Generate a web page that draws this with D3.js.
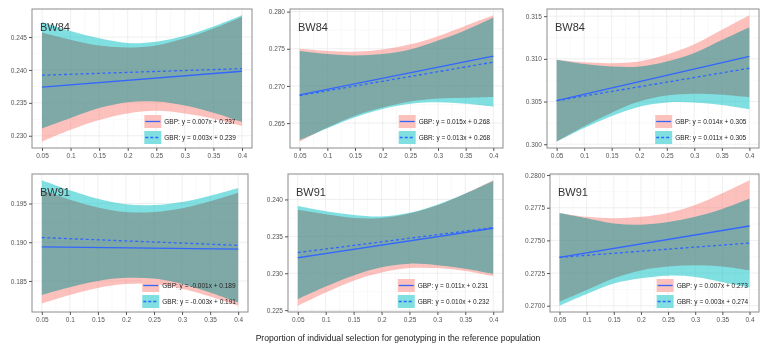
<!DOCTYPE html>
<html>
<head>
<meta charset="utf-8">
<script src="https://cdn.jsdelivr.net/npm/d3@7"></script>
<style>
  body { margin: 0; background: #fff; }
  svg { display: block; font-family: "Liberation Sans", Arial, sans-serif; }
  .band { mix-blend-mode: multiply; }
</style>
</head>
<body>
<div id="chart"></div>
<script>
const xTicks = [0.05, 0.1, 0.15, 0.2, 0.25, 0.3, 0.35, 0.4];
const xEnds = [0.05, 0.4];

const panelTitles = ["BW84", "BW84", "BW84", "BW91", "BW91", "BW91"];

const yTicks = [
  [0.230, 0.235, 0.240, 0.245],
  [0.265, 0.270, 0.275, 0.280],
  [0.300, 0.305, 0.310, 0.315],
  [0.185, 0.190, 0.195],
  [0.225, 0.230, 0.235, 0.240],
  [0.2700, 0.2725, 0.2750, 0.2775, 0.2800]
];
const yFormats = [".3f", ".3f", ".3f", ".3f", ".3f", ".4f"];

// fitted lines, value at x = 0.05 and x = 0.4
const gbpFit = [[0.2374, 0.2398], [0.2688, 0.2740], [0.3051, 0.3103], [0.1894, 0.1891], [0.2321, 0.2361], [0.2737, 0.2761]];
const gbrFit = [[0.2392, 0.2402], [0.2687, 0.2732], [0.3051, 0.3089], [0.1906, 0.1896], [0.2328, 0.2362], [0.2737, 0.2748]];

// confidence bands at xTicks
const gbpLower = [
  [0.2291, 0.2309, 0.2324, 0.2334, 0.2338, 0.2334, 0.2326, 0.2315],
  [0.2625, 0.2644, 0.2660, 0.2671, 0.2679, 0.2683, 0.2684, 0.2685],
  [0.3003, 0.3021, 0.3037, 0.3050, 0.3057, 0.3059, 0.3058, 0.3055],
  [0.1821, 0.1832, 0.1841, 0.1846, 0.1846, 0.1840, 0.1830, 0.1818],
  [0.2256, 0.2274, 0.2290, 0.2301, 0.2307, 0.2307, 0.2303, 0.2296],
  [0.2703, 0.2712, 0.2721, 0.2727, 0.2730, 0.2731, 0.2730, 0.2727]
];
const gbpUpper = [
  [0.2457, 0.2446, 0.2437, 0.2434, 0.2437, 0.2448, 0.2463, 0.2481],
  [0.2750, 0.2747, 0.2746, 0.2749, 0.2756, 0.2767, 0.2781, 0.2795],
  [0.3099, 0.3096, 0.3095, 0.3097, 0.3105, 0.3117, 0.3134, 0.3151],
  [0.1967, 0.1955, 0.1945, 0.1939, 0.1939, 0.1944, 0.1953, 0.1964],
  [0.2386, 0.2380, 0.2375, 0.2375, 0.2381, 0.2392, 0.2408, 0.2426],
  [0.2771, 0.2768, 0.2767, 0.2768, 0.2771, 0.2777, 0.2786, 0.2796]
];
const gbrLower = [
  [0.2311, 0.2327, 0.2342, 0.2351, 0.2352, 0.2346, 0.2335, 0.2321],
  [0.2627, 0.2643, 0.2658, 0.2669, 0.2676, 0.2678, 0.2676, 0.2672],
  [0.3003, 0.3019, 0.3033, 0.3044, 0.3049, 0.3049, 0.3046, 0.3041],
  [0.1832, 0.1842, 0.1850, 0.1854, 0.1853, 0.1846, 0.1835, 0.1822],
  [0.2265, 0.2282, 0.2297, 0.2308, 0.2313, 0.2311, 0.2306, 0.2299],
  [0.2700, 0.2709, 0.2717, 0.2721, 0.2723, 0.2722, 0.2718, 0.2714]
];
const gbrUpper = [
  [0.2473, 0.2459, 0.2448, 0.2441, 0.2443, 0.2452, 0.2466, 0.2483],
  [0.2747, 0.2743, 0.2741, 0.2743, 0.2749, 0.2761, 0.2775, 0.2792],
  [0.3099, 0.3094, 0.3091, 0.3091, 0.3097, 0.3107, 0.3122, 0.3137],
  [0.1980, 0.1967, 0.1956, 0.1949, 0.1948, 0.1952, 0.1960, 0.1970],
  [0.2391, 0.2384, 0.2379, 0.2377, 0.2382, 0.2393, 0.2408, 0.2425],
  [0.2771, 0.2767, 0.2763, 0.2762, 0.2764, 0.2768, 0.2774, 0.2782]
];

const gbpLabels = ["GBP: y = 0.007x + 0.237", "GBP: y = 0.015x + 0.268", "GBP: y = 0.014x + 0.305",
                   "GBP: y = -0.001x + 0.189", "GBP: y = 0.011x + 0.231", "GBP: y = 0.007x + 0.273"];
const gbrLabels = ["GBR: y = 0.003x + 0.239", "GBR: y = 0.013x + 0.268", "GBR: y = 0.011x + 0.305",
                   "GBR: y = -0.003x + 0.191", "GBR: y = 0.010x + 0.232", "GBR: y = 0.003x + 0.274"];

const xTitle = "Proportion of individual selection for genotyping in the reference population";

// plot boxes (layout)
const boxes = [
  { x0: 32, x1: 252, y0: 9, y1: 148 },
  { x0: 290, x1: 503, y0: 9, y1: 148 },
  { x0: 547, x1: 759, y0: 9, y1: 148 },
  { x0: 32, x1: 248, y0: 174, y1: 312 },
  { x0: 288, x1: 503, y0: 174, y1: 312 },
  { x0: 550, x1: 759, y0: 174, y1: 312 }
];

const width = 761, height = 350;
const lineColor = "#3366FF";
const pink = "#F8766D", cyan = "#00BFC4";

const svg = d3.select("#chart").append("svg")
  .attr("width", width)
  .attr("height", height);

boxes.forEach((b, i) => {
  const g = svg.append("g");

  const x = d3.scaleLinear()
    .domain([0.05 - 0.0175, 0.4 + 0.0175])
    .range([b.x0, b.x1]);

  const all = gbpLower[i].concat(gbpUpper[i], gbrLower[i], gbrUpper[i]);
  const ext = d3.extent(all);
  const pad = (ext[1] - ext[0]) * 0.05;
  const y = d3.scaleLinear()
    .domain([ext[0] - pad, ext[1] + pad])
    .range([b.y1, b.y0]);

  const clipId = "clip" + i;
  g.append("clipPath").attr("id", clipId)
    .append("rect")
    .attr("x", b.x0).attr("y", b.y0)
    .attr("width", b.x1 - b.x0).attr("height", b.y1 - b.y0);

  g.append("rect")
    .attr("x", b.x0).attr("y", b.y0)
    .attr("width", b.x1 - b.x0).attr("height", b.y1 - b.y0)
    .attr("fill", "#fff");

  // grid lines
  const grid = g.append("g").attr("clip-path", `url(#${clipId})`);
  const minorX = d3.pairs(xTicks).map(p => (p[0] + p[1]) / 2);
  const minorY = d3.pairs(yTicks[i]).map(p => (p[0] + p[1]) / 2);
  grid.selectAll(".mx").data(minorX).join("line")
    .attr("x1", d => x(d)).attr("x2", d => x(d))
    .attr("y1", b.y0).attr("y2", b.y1)
    .attr("stroke", "#f2f2f2").attr("stroke-width", 0.5);
  grid.selectAll(".my").data(minorY).join("line")
    .attr("y1", d => y(d)).attr("y2", d => y(d))
    .attr("x1", b.x0).attr("x2", b.x1)
    .attr("stroke", "#f2f2f2").attr("stroke-width", 0.5);
  grid.selectAll(".gx").data(xTicks).join("line")
    .attr("x1", d => x(d)).attr("x2", d => x(d))
    .attr("y1", b.y0).attr("y2", b.y1)
    .attr("stroke", "#ebebeb").attr("stroke-width", 0.8);
  grid.selectAll(".gy").data(yTicks[i]).join("line")
    .attr("y1", d => y(d)).attr("y2", d => y(d))
    .attr("x1", b.x0).attr("x2", b.x1)
    .attr("stroke", "#ebebeb").attr("stroke-width", 0.8);

  // confidence bands
  const plot = g.append("g").attr("clip-path", `url(#${clipId})`);
  const band = (lo, hi) => d3.area()
    .x((d, k) => x(xTicks[k]))
    .y0((d, k) => y(lo[k]))
    .y1((d, k) => y(hi[k]))
    .curve(d3.curveCatmullRom.alpha(0.5))(xTicks);

  plot.append("path").attr("class", "band")
    .attr("d", band(gbpLower[i], gbpUpper[i]))
    .attr("fill", pink).attr("fill-opacity", 0.45);
  plot.append("path").attr("class", "band")
    .attr("d", band(gbrLower[i], gbrUpper[i]))
    .attr("fill", cyan).attr("fill-opacity", 0.5);

  // fitted lines
  const line = d3.line().x((d, k) => x(xEnds[k])).y(d => y(d));
  plot.append("path")
    .attr("d", line(gbpFit[i]))
    .attr("fill", "none").attr("stroke", lineColor).attr("stroke-width", 1.3);
  plot.append("path")
    .attr("d", line(gbrFit[i]))
    .attr("fill", "none").attr("stroke", lineColor).attr("stroke-width", 1.3)
    .attr("stroke-dasharray", "3,2.5");

  // border
  g.append("rect")
    .attr("x", b.x0).attr("y", b.y0)
    .attr("width", b.x1 - b.x0).attr("height", b.y1 - b.y0)
    .attr("fill", "none").attr("stroke", "#8c8c8c").attr("stroke-width", 1);

  // axes
  const yAxis = g.append("g")
    .attr("transform", `translate(${b.x0},0)`)
    .call(d3.axisLeft(y).tickValues(yTicks[i]).tickSize(3).tickPadding(2)
      .tickFormat(d3.format(yFormats[i])));
  const xAxis = g.append("g")
    .attr("transform", `translate(0,${b.y1})`)
    .call(d3.axisBottom(x).tickValues(xTicks).tickSize(3).tickPadding(2)
      .tickFormat(d => (d === 0.05 ? "0.05" : d3.format("~g")(d))));
  [xAxis, yAxis].forEach(a => {
    a.select(".domain").remove();
    a.selectAll(".tick line").attr("stroke", "#555");
    a.selectAll(".tick text")
      .attr("fill", "#555")
      .style("font-size", "6.5px")
      .style("font-family", "'Liberation Sans', Arial, sans-serif");
  });

  // panel title
  g.append("text")
    .attr("x", b.x0 + 8).attr("y", b.y0 + 22)
    .attr("fill", "#333")
    .style("font-size", "11px")
    .text(panelTitles[i]);

  // legend
  const lx = b.x0 + 0.515 * (b.x1 - b.x0) - 1;
  const keys = [
    { y: b.y1 - 33, fill: pink, op: 0.45, dash: null, label: gbpLabels[i] },
    { y: b.y1 - 17, fill: cyan, op: 0.5, dash: "3,2", label: gbrLabels[i] }
  ];
  const leg = g.append("g");
  keys.forEach(k => {
    leg.append("rect")
      .attr("x", lx).attr("y", k.y)
      .attr("width", 17).attr("height", 13)
      .attr("fill", "#fff");
    leg.append("rect")
      .attr("x", lx).attr("y", k.y)
      .attr("width", 17).attr("height", 13)
      .attr("fill", k.fill).attr("fill-opacity", k.op);
    leg.append("line")
      .attr("x1", lx + 1).attr("x2", lx + 16)
      .attr("y1", k.y + 6.5).attr("y2", k.y + 6.5)
      .attr("stroke", lineColor).attr("stroke-width", 1.3)
      .attr("stroke-dasharray", k.dash);
    leg.append("text")
      .attr("x", lx + 20).attr("y", k.y + 9)
      .attr("fill", "#222")
      .style("font-size", "6.5px")
      .text(k.label);
  });
});

svg.append("text")
  .attr("x", 398).attr("y", 341)
  .attr("text-anchor", "middle")
  .attr("fill", "#222")
  .style("font-size", "8.6px")
  .text(xTitle);
</script>
</body>
</html>
